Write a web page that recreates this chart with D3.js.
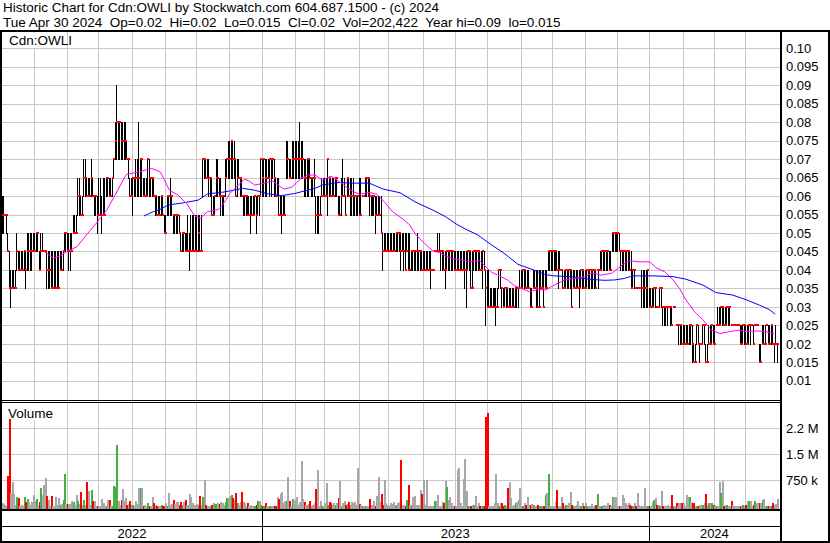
<!DOCTYPE html>
<html><head><meta charset="utf-8">
<script src="https://cdn.jsdelivr.net/npm/d3@7"></script>
<style>
body{margin:0;background:#fff}
svg{display:block}
text{font-family:"Liberation Sans",Arial,sans-serif;font-size:13px;fill:#000;white-space:pre}
text.big{font-size:13.5px}
</style>
</head><body><svg id="chart" width="830" height="543"></svg>
<script>
// ---------------- DATA ----------------
const headerLines = [
  "Historic Chart for Cdn:OWLI by Stockwatch.com 604.687.1500 - (c) 2024",
  "Tue Apr 30 2024  Op=0.02  Hi=0.02  Lo=0.015  Cl=0.02  Vol=202,422  Year hi=0.09  lo=0.015"
];
const symbolLabel = "Cdn:OWLI";
const volumeLabel = "Volume";
const priceTicks = [0.10,0.095,0.09,0.085,0.08,0.075,0.07,0.065,0.06,0.055,0.05,0.045,0.04,0.035,0.03,0.025,0.02,0.015,0.01];
const priceTickLabels = ["0.10","0.095","0.09","0.085","0.08","0.075","0.07","0.065","0.06","0.055","0.05","0.045","0.04","0.035","0.03","0.025","0.02","0.015","0.01"];
const volumeTicks = [750000,1500000,2250000];
const volumeTickLabels = ["750 k","1.5 M","2.2 M"];
const yearLabels = ["2022","2023","2024"];
const firstTradingDay = "2022-05-02";
const lastTradingDay = "2024-04-30";
// daily [high, low, close] in thousandths of a dollar, one row per week (Mon..Fri)
const dailyBars = [
[60,50,55],[60,50,55],[55,55,55],[55,50,55],[50,45,45],
[45,35,35],[40,30,35],[40,35,35],[40,35,35],[40,35,35],
[50,40,45],[45,40,40],[45,40,40],[45,40,40],[45,40,40],
[45,40,45],[45,35,40],[50,40,45],[50,40,45],[50,40,45],
[50,40,45],[50,45,45],[50,45,45],[50,45,50],[50,45,50],
[45,40,40],[50,40,45],[50,45,45],[45,45,45],[45,45,45],
[45,35,40],[45,35,40],[45,35,40],[45,35,35],[45,35,35],
[45,35,35],[45,35,35],[45,35,35],[45,35,35],[45,40,40],
[45,40,40],[45,40,45],[50,45,50],[50,45,50],[50,45,45],
[50,40,45],[50,40,45],[50,45,45],[55,50,50],[55,50,50],
[55,50,50],[65,55,60],[65,55,60],[60,55,55],[60,55,55],
[70,60,65],[70,60,65],[65,60,60],[65,60,60],[65,60,60],
[70,60,65],[65,60,60],[60,55,60],[60,55,60],[60,50,55],
[65,55,55],[65,55,55],[60,50,55],[65,55,55],[65,55,55],
[65,60,65],[65,60,65],[65,60,60],[65,60,60],[65,60,65],
[70,65,70],[80,70,75],[90,70,80],[80,70,80],[80,70,80],
[80,70,75],[80,70,75],[80,70,75],[80,70,75],[75,70,70],
[70,65,70],[65,60,60],[65,60,60],[65,55,65],[65,60,65],
[70,60,65],[70,60,65],[80,60,65],[70,60,70],[70,60,70],
[65,60,60],[65,60,60],[65,60,60],[70,60,70],[70,60,65],
[65,60,65],[65,60,65],[65,60,60],[60,55,60],[60,55,55],
[60,55,55],[60,55,55],[60,55,60],[60,55,55],[55,50,50],
[55,50,50],[60,55,60],[60,55,60],[65,55,60],[60,55,60],
[55,50,55],[55,50,55],[55,50,55],[55,50,55],[55,50,50],
[50,45,45],[50,45,50],[50,45,50],[50,45,45],[50,45,45],
[55,45,45],[50,40,45],[55,45,45],[55,45,45],[55,45,45],
[55,45,45],[55,45,45],[55,45,50],[55,45,45],[55,45,45],
[70,60,70],[70,65,70],[70,65,65],[70,65,65],[70,60,65],
[65,60,65],[65,55,55],[60,55,55],[60,55,60],[70,60,65],
[70,60,65],[65,60,60],[65,55,60],[60,55,60],[60,55,60],
[70,60,65],[70,65,70],[75,65,70],[75,65,70],[75,65,75],
[75,65,70],[75,65,70],[70,60,60],[70,60,65],[70,65,65],
[65,60,65],[65,60,60],[60,55,60],[60,55,60],[60,55,60],
[60,55,55],[60,55,55],[60,50,55],[60,55,55],[60,55,55],
[60,55,60],[60,50,55],[60,55,60],[60,55,60],[70,60,70],
[70,60,65],[70,60,70],[70,60,65],[70,60,65],[70,65,65],
[70,60,70],[70,60,70],[70,65,70],[70,60,65],[65,60,60],
[65,60,60],[65,55,55],[60,55,55],[60,50,55],[60,55,55],
[60,55,55],[75,65,70],[75,65,70],[70,65,65],[70,65,65],
[75,65,70],[75,65,70],[75,65,70],[75,65,70],[75,65,70],
[80,65,70],[75,65,70],[75,65,70],[70,60,65],[70,60,65],
[70,60,70],[70,60,70],[70,65,65],[65,60,65],[65,60,65],
[70,60,65],[60,50,55],[60,50,55],[60,50,55],[60,55,55],
[65,60,60],[65,60,60],[65,60,60],[65,60,60],[70,55,70],
[65,60,65],[65,60,60],[65,60,60],[65,60,60],[65,60,65],
[65,60,65],[60,55,55],[60,55,55],[65,55,60],[70,60,60],
[65,60,60],[60,55,55],[65,60,65],[65,60,60],[65,55,60],
[65,55,60],[65,55,60],[60,55,60],[60,55,60],[60,55,60],
[65,55,55],[65,55,55],[60,60,60],[60,60,60],[65,60,65],
[65,60,65],[65,60,65],[65,55,60],[60,55,60],[60,55,60],
[60,55,60],[60,50,55],[60,55,55],[60,55,55],[60,55,55],
[60,50,50],[50,40,45],[50,45,45],[50,45,45],[50,45,45],
[50,45,45],[50,45,45],[50,45,45],[50,45,45],[50,45,45],
[50,45,50],[50,45,50],[50,45,50],[50,40,45],[50,45,45],
[50,40,45],[50,40,40],[50,45,45],[50,40,40],[50,40,40],
[45,40,45],[45,40,45],[45,40,45],[45,40,45],[50,40,45],
[45,40,45],[45,40,45],[45,40,40],[45,40,40],[45,40,40],
[45,40,40],[45,40,40],[45,40,40],[45,35,40],[40,40,40],
[40,40,40],[45,45,45],[45,45,45],[50,45,45],[50,45,45],
[45,40,45],[45,40,45],[45,40,40],[45,35,40],[45,40,45],
[45,40,45],[45,40,45],[45,40,45],[45,40,45],[45,40,40],
[45,40,40],[45,40,40],[45,40,40],[45,40,40],[45,40,40],
[45,40,40],[45,35,40],[45,30,40],[45,40,45],[45,40,45],
[45,35,35],[45,35,35],[45,40,45],[45,40,45],[45,40,45],
[45,40,45],[45,40,40],[45,40,40],[45,35,45],[45,40,40],
[40,25,35],[40,30,30],[40,30,30],[35,30,30],[35,30,30],
[35,30,30],[35,30,30],[35,25,30],[35,30,30],[40,35,40],
[40,35,40],[35,30,35],[35,30,30],[35,30,35],[35,30,35],
[35,30,30],[35,30,30],[35,30,30],[35,30,30],[35,30,30],
[35,30,35],[35,30,35],[35,30,35],[40,35,35],[40,35,35],
[40,35,40],[40,35,40],[40,35,35],[40,35,35],[40,35,35],
[35,30,30],[35,30,30],[40,35,35],[40,35,35],[40,30,35],
[40,30,30],[40,30,30],[40,35,35],[40,35,35],[40,30,30],
[40,35,35],[40,35,35],[45,40,45],[45,40,45],[45,40,45],
[45,40,45],[45,40,45],[45,40,45],[45,40,40],[45,35,40],
[45,40,40],[40,40,40],[40,35,35],[40,35,35],[40,35,40],
[40,35,40],[40,35,40],[40,35,40],[40,30,30],[40,35,35],
[40,35,35],[40,35,35],[40,35,35],[40,30,35],[40,35,40],
[40,35,40],[40,35,35],[40,35,35],[40,35,40],[40,35,40],
[40,35,40],[40,35,40],[40,35,40],[40,35,40],[40,35,35],
[40,40,40],[40,35,40],[45,40,40],[45,40,45],[45,40,45],
[45,40,45],[45,40,45],[45,40,45],[45,40,40],[45,40,40],
[50,45,50],[50,45,50],[50,45,50],[50,45,50],[50,45,50],
[50,45,45],[45,40,45],[45,40,45],[45,40,45],[45,40,45],
[45,40,45],[45,40,45],[45,40,40],[45,35,35],[40,35,40],
[40,35,40],[35,35,35],[35,35,35],[35,35,35],[35,35,35],
[40,30,35],[40,30,35],[40,30,35],[40,30,35],[40,30,40],
[35,30,30],[35,30,30],[35,30,30],[35,30,35],[35,30,35],
[30,30,30],[30,30,30],[35,30,35],[35,30,35],[30,25,30],
[30,25,30],[30,25,30],[30,25,30],[30,30,30],[30,25,30],
[30,25,25],[30,30,30],[30,30,30],[25,25,25],[25,25,25],
[25,20,25],[25,20,25],[25,20,20],[25,20,20],[25,20,20],
[25,20,20],[25,20,20],[25,20,25],[25,20,25],[25,15,20],
[20,15,15],[20,15,15],[25,20,25],[25,20,20],[20,15,20],
[20,20,20],[25,20,25],[25,20,25],[20,15,15],[20,15,15],
[25,20,20],[25,20,20],[25,20,25],[25,20,20],[25,20,20],
[25,25,25],[30,25,25],[30,25,25],[30,25,30],[30,25,30],
[30,25,25],[30,25,25],[30,25,30],[30,25,30],[30,25,30],
[25,25,25],[25,25,25],[25,25,25],[25,25,25],[25,25,25],
[25,25,25],[25,20,20],[25,20,20],[25,20,25],[25,20,25],
[25,20,20],[25,20,20],[25,20,25],[25,20,25],[25,25,25],
[25,20,20],[25,25,25],[25,25,25],[25,25,25],[20,15,15],
[20,15,15],[25,20,20],[25,20,20],[25,20,20],[25,25,25],
[25,20,20],[25,20,20],[25,20,25],[25,20,20],[20,15,20],
[25,20,20],[20,15,20]
];
// daily volume in thousands of shares
const dailyVolume = [
85,57,37,20,873, 2516,375,690,354,40, 277,229,10,30,20, 277,114,210,114,40,
114,325,153,210,40, 114,517,325,613,805, 297,172,10,297,20, 10,277,50,249,40,
76,181,930,57,57, 66,66,153,114,30, 325,153,57,421,30, 181,37,690,441,30,
469,153,153,10,20, 10,20,210,85,20, 10,172,172,30,20, 584,546,1766,153,37,
181,498,153,229,30, 57,153,37,40,20, 153,60,517,537,537, 10,37,10,105,20,
10,277,85,37,20, 10,10,37,10,20, 85,10,373,37,57, 181,66,133,133,30,
133,37,114,172,30, 37,345,277,85,30, 37,66,37,297,30, 277,757,37,10,20,
10,37,85,57,57, 85,57,114,85,40, 133,229,229,306,325, 229,181,393,85,40,
133,402,133,85,10, 85,10,37,20,10, 10,37,153,153,37, 20,10,85,10,20,
10,10,10,10,20, 258,210,354,421,85, 153,153,834,153,10, 210,172,190,277,40,
114,1304,210,114,37, 37,66,153,10,30, 85,498,1045,20,153, 20,10,85,680,40,
114,85,37,105,30, 85,249,728,10,85, 153,37,66,114,30, 114,85,114,40,1093,
57,37,10,10,20, 10,10,210,37,20, 153,10,297,834,133, 345,37,757,105,30,
10,85,57,114,37, 37,85,133,1334,37, 37,10,181,613,40, 37,277,297,40,30,
37,469,354,757,40, 757,20,10,20,10, 10,153,153,325,20, 10,133,105,728,566,
181,277,105,20,10, 10,1045,1093,85,10, 776,1353,441,20,10, 10,37,37,306,10,
85,10,20,10,10, 2570,2690,10,10,10, 10,85,920,105,20, 105,105,10,37,20,
517,690,229,10,30, 85,133,181,537,10, 10,85,37,277,37, 37,57,37,10,10,
37,10,10,10,10, 325,373,920,10,10, 10,10,133,469,20, 10,277,85,10,37,
37,85,421,37,20, 10,37,153,10,10, 85,10,85,20,10, 10,57,10,10,37,
345,10,10,20,37, 37,10,85,37,20, 277,277,277,10,10, 10,10,325,249,85,
37,85,37,10,20, 85,10,373,37,20, 10,10,517,10,10, 10,10,133,181,229,
37,37,20,441,20, 10,10,37,10,20, 325,10,10,85,20, 85,85,105,85,20,
325,277,277,133,85, 85,10,10,10,37, 37,37,85,354,37, 85,85,85,37,10,
10,10,710,393,728, 10,37,37,20,10, 153,37,10,10,10, 10,20,10,37,10,
37,153,153,153,20, 37,153,85,85,85, 85,181,210,10,10, 10,10,10,85,37,
60,202
];
// short moving average (magenta)
const maShort = [["2022-06-12",0.0448],["2022-06-20",0.0432],["2022-06-26",0.0438],["2022-07-02",0.0449],["2022-07-12",0.0463],["2022-07-21",0.0495],["2022-07-30",0.0526],["2022-08-09",0.0562],["2022-08-17",0.0603],["2022-08-26",0.0652],["2022-08-28",0.0659],["2022-09-09",0.0666],["2022-09-20",0.0675],["2022-09-28",0.0666],["2022-09-30",0.0657],["2022-10-07",0.0616],["2022-10-15",0.0603],["2022-10-23",0.0580],["2022-10-31",0.0546],["2022-11-05",0.0540],["2022-11-12",0.0558],["2022-11-22",0.0564],["2022-11-26",0.0576],["2022-12-03",0.0607],["2022-12-11",0.0630],["2022-12-17",0.0646],["2022-12-22",0.0639],["2022-12-26",0.0630],["2023-01-05",0.0635],["2023-01-12",0.0641],["2023-01-17",0.0630],["2023-01-23",0.0619],["2023-01-30",0.0624],["2023-02-08",0.0648],["2023-02-14",0.0657],["2023-02-21",0.0657],["2023-02-28",0.0643],["2023-03-08",0.0654],["2023-03-16",0.0639],["2023-03-22",0.0625],["2023-03-29",0.0612],["2023-04-04",0.0605],["2023-04-13",0.0610],["2023-04-20",0.0605],["2023-04-27",0.0585],["2023-05-05",0.0558],["2023-05-15",0.0537],["2023-05-21",0.0522],["2023-05-27",0.0495],["2023-06-04",0.0472],["2023-06-12",0.0451],["2023-06-18",0.0447],["2023-06-24",0.0438],["2023-07-01",0.0430],["2023-07-10",0.0427],["2023-07-16",0.0422],["2023-07-26",0.0425],["2023-07-30",0.0413],["2023-08-06",0.0394],["2023-08-12",0.0386],["2023-08-21",0.0373],["2023-08-28",0.0357],["2023-09-03",0.0350],["2023-09-11",0.0341],["2023-09-19",0.0348],["2023-09-26",0.0346],["2023-10-04",0.0359],["2023-10-14",0.0373],["2023-10-23",0.0377],["2023-11-02",0.0382],["2023-11-09",0.0392],["2023-11-17",0.0386],["2023-11-27",0.0391],["2023-12-03",0.0404],["2023-12-09",0.0418],["2023-12-14",0.0425],["2023-12-23",0.0422],["2024-01-02",0.0422],["2024-01-08",0.0406],["2024-01-16",0.0395],["2024-01-24",0.0373],["2024-01-30",0.0350],["2024-02-05",0.0319],["2024-02-13",0.0287],["2024-02-21",0.0265],["2024-02-29",0.0237],["2024-03-08",0.0228],["2024-03-17",0.0233],["2024-03-25",0.0237],["2024-04-02",0.0233],["2024-04-11",0.0235],["2024-04-20",0.0233],["2024-04-28",0.0228]];
// long moving average (blue)
const maLong = [["2022-09-13",0.0546],["2022-09-22",0.0558],["2022-09-28",0.0564],["2022-10-06",0.0576],["2022-10-21",0.0582],["2022-11-03",0.0589],["2022-11-12",0.0606],["2022-11-25",0.0610],["2022-12-07",0.0616],["2022-12-15",0.0621],["2022-12-26",0.0616],["2023-01-08",0.0606],["2023-01-20",0.0601],["2023-02-02",0.0607],["2023-02-14",0.0616],["2023-02-21",0.0621],["2023-02-28",0.0630],["2023-03-16",0.0637],["2023-03-26",0.0635],["2023-04-13",0.0635],["2023-04-26",0.0619],["2023-05-12",0.0609],["2023-05-27",0.0583],["2023-06-12",0.0562],["2023-06-24",0.0544],["2023-07-04",0.0524],["2023-07-13",0.0510],["2023-07-24",0.0495],["2023-08-06",0.0468],["2023-08-18",0.0445],["2023-08-31",0.0415],["2023-09-12",0.0403],["2023-09-25",0.0388],["2023-10-04",0.0384],["2023-10-20",0.0382],["2023-11-05",0.0375],["2023-11-20",0.0372],["2023-11-30",0.0373],["2023-12-09",0.0377],["2023-12-17",0.0384],["2024-01-05",0.0384],["2024-01-24",0.0382],["2024-02-05",0.0375],["2024-02-21",0.0359],["2024-03-04",0.0339],["2024-03-20",0.0332],["2024-04-02",0.0319],["2024-04-14",0.0305],["2024-04-24",0.0292],["2024-04-29",0.0280]];

// ---------------- RENDER ----------------
const W = 830, H = 543;
const parse = d3.utcParse("%Y-%m-%d");
const svg = d3.select("#chart");
const COL = {grid:"#c8c8c8", bar:"#000", close:"#ff0000", up:"#44b044", down:"#ff0000", flat:"#a8a8a8", maS:"#ff00ff", maL:"#0000ff"};

const plotL = 2, plotR = 780;
const priceTop = 32, priceBot = 400, volTop = 403, volBot = 509;

// trading-day axis (weekdays)
const tradingDays = [];
for (let d = parse(firstTradingDay); d <= parse(lastTradingDay); d = d3.utcDay.offset(d, 1)) {
  const wd = d.getUTCDay();
  if (wd !== 0 && wd !== 6) tradingDays.push(d);
}
const nDays = tradingDays.length;
const xi = d3.scaleLinear().domain([0, nDays - 1]).range([1.5, 776.7]);
// calendar scale for the moving-average lines, agreeing with xi on Mondays
const lastMonday = d3.utcMonday.floor(parse(lastTradingDay));
const xc = d3.scaleUtc().domain([parse(firstTradingDay), lastMonday])
  .range([xi(0), xi(d3.bisectLeft(tradingDays, lastMonday))]);
const idxOf = d => d3.bisectLeft(tradingDays, d);

const y = d3.scaleLinear().domain([0.01, 0.10]).range([380.8, 48.3]);
const vy = d3.scaleLinear().domain([0, 2250000]).range([506.3, 428.3]);

const n = Math.min(nDays, dailyBars.length);
const bars = d3.range(n).map(i => ({i, hi: dailyBars[i][0]/1000, lo: dailyBars[i][1]/1000, cl: dailyBars[i][2]/1000,
  vol: (dailyVolume[i] || 0) * 1000, prev: i > 0 ? dailyBars[i-1][2] : dailyBars[i][2], cur: dailyBars[i][2]}));

svg.append("rect").attr("width", W).attr("height", H).attr("fill", "#fff");

// gridlines
const grid = svg.append("g").attr("shape-rendering", "crispEdges").attr("stroke", COL.grid).attr("stroke-width", 1);
grid.selectAll("line.h").data(priceTicks).join("line")
  .attr("x1", plotL).attr("x2", plotR)
  .attr("y1", d => Math.round(y(d)) + 0.5).attr("y2", d => Math.round(y(d)) + 0.5);
const months = d3.utcMonth.range(parse("2022-06-01"), parse("2024-05-01"));
const mx = d => Math.round(xi(idxOf(d))) + 0.5;
grid.selectAll("line.vp").data(months).enter().append("line")
  .attr("x1", mx).attr("x2", mx).attr("y1", priceTop).attr("y2", priceBot);
grid.selectAll("line.vv").data(months).enter().append("line")
  .attr("x1", mx).attr("x2", mx).attr("y1", volTop).attr("y2", volBot);
grid.selectAll("line.hv").data(volumeTicks).enter().append("line")
  .attr("x1", plotL).attr("x2", plotR)
  .attr("y1", d => Math.round(vy(d)) + 0.5).attr("y2", d => Math.round(vy(d)) + 0.5);

// labels with white boxes
svg.append("rect").attr("x", 2).attr("y", 33).attr("width", 65).attr("height", 15).attr("fill", "#fff");
svg.append("text").attr("class", "big").attr("x", 9).attr("y", 45).text(symbolLabel);
svg.append("rect").attr("x", 2).attr("y", 404).attr("width", 56).attr("height", 16).attr("fill", "#fff");
svg.append("text").attr("class", "big").attr("x", 8).attr("y", 418).text(volumeLabel);

// price bars
const pb = svg.append("g").attr("shape-rendering", "crispEdges");
pb.selectAll("line").data(bars.filter(b => b.hi > b.lo)).join("line")
  .attr("x1", b => Math.round(xi(b.i)) + 0.5).attr("x2", b => Math.round(xi(b.i)) + 0.5)
  .attr("y1", b => Math.round(y(b.hi))).attr("y2", b => Math.round(y(b.lo)) + 1)
  .attr("stroke", COL.bar).attr("stroke-width", 1);
pb.selectAll("rect").data(bars).join("rect")
  .attr("x", b => Math.round(xi(b.i))).attr("y", b => Math.round(y(b.cl)) - 1)
  .attr("width", 2).attr("height", 2).attr("fill", COL.close);

// moving averages
const maLine = d3.line().x(d => xc(parse(d[0]))).y(d => y(d[1]));
svg.append("path").attr("d", maLine(maLong)).attr("fill", "none").attr("stroke", COL.maL).attr("stroke-width", 1);
svg.append("path").attr("d", maLine(maShort)).attr("fill", "none").attr("stroke", COL.maS).attr("stroke-width", 1);

// volume bars
svg.append("g").attr("shape-rendering", "crispEdges").selectAll("rect").data(bars).join("rect")
  .attr("x", b => Math.round(xi(b.i))).attr("width", 2)
  .attr("y", b => Math.round(Math.min(vy(b.vol), volBot - 1)))
  .attr("height", b => volBot - Math.round(Math.min(vy(b.vol), volBot - 1)))
  .attr("fill", b => b.cur > b.prev ? COL.up : (b.cur < b.prev ? COL.down : COL.flat));

// frame
const frame = svg.append("g").attr("fill", "#000").attr("shape-rendering", "crispEdges");
frame.append("rect").attr("x", 0).attr("y", 30).attr("width", W).attr("height", 2);
frame.append("rect").attr("x", 0).attr("y", 30).attr("width", 2).attr("height", H - 30);
frame.append("rect").attr("x", W - 2).attr("y", 30).attr("width", 2).attr("height", H - 30);
frame.append("rect").attr("x", plotR).attr("y", 30).attr("width", 2).attr("height", H - 30);
frame.append("rect").attr("x", 0).attr("y", 400).attr("width", plotR).attr("height", 1);
frame.append("rect").attr("x", 0).attr("y", 402).attr("width", plotR).attr("height", 1);
frame.append("rect").attr("x", 0).attr("y", 509).attr("width", plotR).attr("height", 2);
frame.append("rect").attr("x", 0).attr("y", 526).attr("width", plotR).attr("height", 1);
frame.append("rect").attr("x", 0).attr("y", 541).attr("width", W).attr("height", 2);
const yearStarts = [parse("2023-01-01"), parse("2024-01-01")];
frame.selectAll("rect.yd").data(yearStarts).enter().append("rect")
  .attr("x", d => Math.round(xi(idxOf(d)))).attr("y", 511).attr("width", 1).attr("height", 30);

// header
svg.selectAll("text.hdr").data(headerLines).enter().append("text")
  .attr("class", "big").attr("x", 3).attr("y", (d, i) => 11.8 + i * 15.3).text(d => d);

// right axis labels
svg.selectAll("text.pt").data(priceTicks).enter().append("text")
  .attr("x", 786).attr("y", d => y(d)).attr("dy", "0.36em")
  .text((d, i) => priceTickLabels[i]);
svg.selectAll("text.vt").data(volumeTicks).enter().append("text")
  .attr("x", 786).attr("y", d => vy(d)).attr("dy", "0.36em")
  .text((d, i) => volumeTickLabels[i]);

// year labels centred in their spans
const yearBounds = [0, idxOf(parse("2023-01-01")), idxOf(parse("2024-01-01"))];
const yearPx = [plotL, xi(yearBounds[1]), xi(yearBounds[2]), plotR];
svg.selectAll("text.yr").data(yearLabels).enter().append("text")
  .attr("x", (d, i) => (yearPx[i] + yearPx[i + 1]) / 2)
  .attr("y", 538).attr("text-anchor", "middle").text(d => d);
</script>
</body></html>
